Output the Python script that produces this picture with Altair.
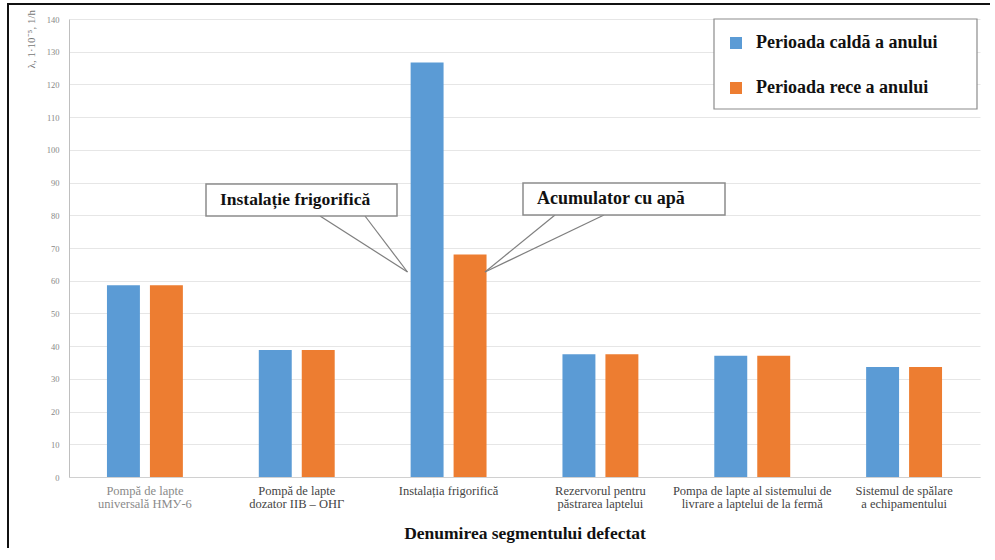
import altair as alt
import pandas as pd

# Segments of the milking/cooling line ("|" marks a line break in the axis label)
categories = [
    "Pompă de lapte|universală НМУ-6",
    "Pompă de lapte|dozator IIB – OHГ",
    "Instalația frigorifică",
    "Rezervorul pentru|păstrarea laptelui",
    "Pompa de lapte al sistemului de|livrare a laptelui de la fermă",
    "Sistemul de spălare|a echipamentului",
]
series = ["Perioada caldă a anului", "Perioada rece a anului"]
warm_values = [58.6, 38.8, 126.7, 37.5, 37.1, 33.6]
cold_values = [58.6, 38.8, 68.0, 37.5, 37.1, 33.6]
y_ticks = list(range(0, 141, 10))
colors = ["#5B9BD5", "#ED7D31"]

rows = []
for cat, w, c in zip(categories, warm_values, cold_values):
    rows.append({"segment": cat, "perioada": series[0], "valoare": w})
    rows.append({"segment": cat, "perioada": series[1], "valoare": c})
df = pd.DataFrame(rows)

SERIF = "Liberation Serif"
W, H = 911, 458
one = alt.Data(values=[{}])

bars = alt.Chart(df).mark_bar().encode(
    x=alt.X(
        "segment:N",
        sort=categories,
        scale=alt.Scale(paddingInner=0.5, paddingOuter=0.25),
        axis=alt.Axis(
            labelExpr="split(datum.label, '|')",
            labelAngle=0,
            labelFont=SERIF,
            labelFontSize=12.5,
            labelColor={
                "condition": {"test": "indexof(datum.label, 'НМУ') >= 0", "value": "#8a8a8a"},
                "value": "#444",
            },
            labelLineHeight=13,
            labelPadding=7,
            labelLimit=300,
            ticks=False,
            domainColor="#d0d0d0",
            title="Denumirea segmentului defectat",
            titleFont=SERIF,
            titleFontSize=17.5,
            titleFontWeight="bold",
            titleColor="#111",
            titleBaseline="middle",
            titleY=56,
        ),
    ),
    xOffset=alt.XOffset(
        "perioada:N", sort=series,
        scale=alt.Scale(paddingInner=0.233, paddingOuter=0),
    ),
    y=alt.Y(
        "valoare:Q",
        scale=alt.Scale(domain=[0, 140], nice=False),
        axis=alt.Axis(
            values=y_ticks,
            title=None,
            labelFont=SERIF,
            labelFontSize=8.5,
            labelColor="#888",
            labelPadding=10,
            ticks=False,
            domainColor="#bfbfbf",
            gridColor="#e6e6e6",
        ),
    ),
    color=alt.Color(
        "perioada:N",
        sort=series,
        scale=alt.Scale(domain=series, range=colors),
        legend=alt.Legend(
            title=None,
            orient="none",
            legendX=658,
            legendY=15,
            padding=0,
            symbolType="square",
            symbolSize=144,
            symbolStrokeWidth=0,
            labelFont=SERIF,
            labelFontSize=18,
            labelFontWeight="bold",
            labelColor="#111",
            labelOffset=11,
            labelLimit=400,
            rowPadding=27,
        ),
    ),
)

# Legend frame
legend_box = alt.Chart(one).mark_rect(fill="white", stroke="#8c8c8c", strokeWidth=1.2).encode(
    x=alt.value(645), x2=alt.value(908), y=alt.value(0), y2=alt.value(90)
)

# Y axis title, rotated, in the top-left corner
y_title = alt.Chart(one).mark_text(
    angle=270, align="right", baseline="middle",
    font=SERIF, fontSize=11, color="#777",
).encode(x=alt.value(-37), y=alt.value(-9), text=alt.value("λ, 1·10⁻⁵, 1/h"))


def callout(x0, x1, y0, y1, label, tip, roots, size):
    box = alt.Chart(one).mark_rect(fill="white", stroke="#8c8c8c", strokeWidth=1.5).encode(
        x=alt.value(x0), x2=alt.value(x1), y=alt.value(y0), y2=alt.value(y1)
    )
    txt = alt.Chart(one).mark_text(
        align="left", baseline="middle", font=SERIF, fontSize=size,
        fontWeight="bold", color="#111",
    ).encode(x=alt.value(x0 + 14), y=alt.value((y0 + y1) / 2), text=alt.value(label))
    lines = [
        alt.Chart(one).mark_rule(stroke="#7f7f7f", strokeWidth=1.2).encode(
            x=alt.value(rx), y=alt.value(y1), x2=alt.value(tip[0]), y2=alt.value(tip[1])
        )
        for rx in roots
    ]
    return lines + [box, txt]


left_callout = callout(137, 328, 165, 197, "Instalație frigorifică", (338.5, 253), [251, 296], 17.5)
right_callout = callout(454, 656, 164, 196, "Acumulator cu apă", (416, 253), [486, 535], 18)

# Dark frame strips along the left and top edges of the figure
frame_left = alt.Chart(one).mark_rect(fill="#111", strokeWidth=0).encode(
    x=alt.value(-62), x2=alt.value(-60), y=alt.value(-16), y2=alt.value(529)
)
frame_top = alt.Chart(one).mark_rect(fill="#111", strokeWidth=0).encode(
    x=alt.value(-62), x2=alt.value(921), y=alt.value(-16), y2=alt.value(-14)
)

chart = alt.layer(
    bars, legend_box, y_title, *left_callout, *right_callout, frame_left, frame_top
).properties(
    width=W,
    height=H,
    padding={"left": 69, "top": 19, "right": 10, "bottom": 71},
    autosize=alt.AutoSizeParams(type="none"),
    background="white",
).configure_view(stroke=None)

chart.save("out.html", embed_options={"renderer": "svg", "actions": False})
